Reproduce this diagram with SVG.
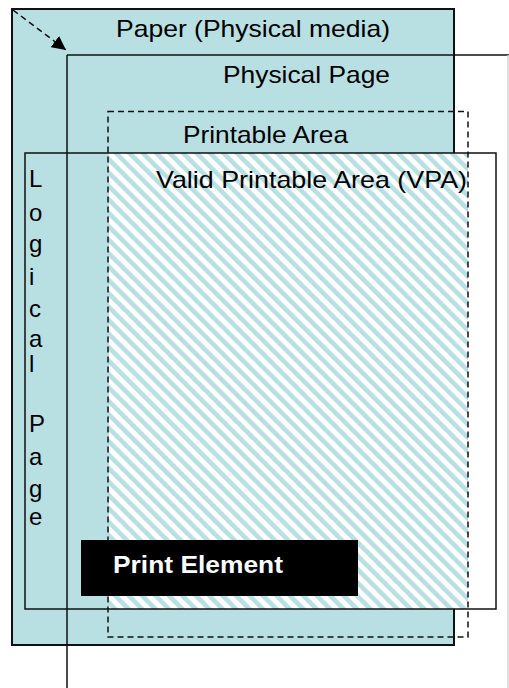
<svg xmlns="http://www.w3.org/2000/svg" width="509" height="688" viewBox="0 0 509 688">
  <style>
    .lbl { font-family: "Liberation Sans", Arial, sans-serif; font-size: 24px; fill: #000; }
    .pe { font-family: "Liberation Sans", Arial, sans-serif; font-size: 24px; font-weight: bold; fill: #fff; }
    .edge { fill: none; stroke: #111; stroke-width: 1.5; }
    .dash { fill: none; stroke: #111; stroke-width: 1.5; stroke-dasharray: 6 4; }
  </style>
  <defs>
    <pattern id="hatch" width="9.5" height="9.5" patternUnits="userSpaceOnUse" patternTransform="rotate(-45)">
      <rect width="9.5" height="9.5" fill="#ffffff"/>
      <rect width="4.6" height="9.5" fill="#b8dfe2"/>
    </pattern>
    <marker id="arrow" viewBox="0 0 10 10" refX="10" refY="5" markerWidth="14" markerHeight="14" markerUnits="userSpaceOnUse" orient="auto">
      <path d="M0,0 L10,5 L0,10 z" fill="#000"/>
    </marker>
  </defs>
  <rect width="509" height="688" fill="#ffffff"/>

  <g id="paper">
    <rect x="12" y="9" width="442" height="636" fill="#b8dfe2" stroke="#111" stroke-width="2"/>
    <text class="lbl" x="116" y="37" textLength="274" lengthAdjust="spacingAndGlyphs">Paper (Physical media)</text>
  </g>

  <g id="physical-page">
    <line x1="67" y1="55" x2="509" y2="55" class="edge"/>
    <line x1="67" y1="55" x2="67" y2="688" class="edge"/>
    <line x1="508" y1="55" x2="508" y2="688" stroke="#d4d4d4" stroke-width="1.5"/>
    <text class="lbl" x="223" y="83" textLength="167" lengthAdjust="spacingAndGlyphs">Physical Page</text>
  </g>

  <g id="vpa">
    <rect x="109" y="153" width="359" height="456" fill="url(#hatch)"/>
    <text class="lbl" x="156" y="188" textLength="311" lengthAdjust="spacingAndGlyphs">Valid Printable Area (VPA)</text>
  </g>

  <g id="printable-area">
    <rect x="108" y="111.5" width="360" height="525.5" class="dash"/>
    <text class="lbl" x="183" y="143" textLength="165" lengthAdjust="spacingAndGlyphs">Printable Area</text>
  </g>

  <g id="logical-page">
    <rect x="25" y="153" width="471" height="456" class="edge"/>
    <text class="lbl" x="29" y="187">L</text>
    <text class="lbl" x="29" y="221">o</text>
    <text class="lbl" x="29" y="252">g</text>
    <text class="lbl" x="29" y="285">i</text>
    <text class="lbl" x="29" y="317">c</text>
    <text class="lbl" x="29" y="347">a</text>
    <text class="lbl" x="29" y="372">l</text>
    <text class="lbl" x="29" y="432">P</text>
    <text class="lbl" x="29" y="465">a</text>
    <text class="lbl" x="29" y="497">g</text>
    <text class="lbl" x="29" y="525">e</text>
  </g>

  <g id="print-element">
    <rect x="81" y="540" width="277" height="56" fill="#000"/>
    <text class="pe" x="113" y="573" textLength="170" lengthAdjust="spacingAndGlyphs">Print Element</text>
  </g>

  <g id="connectors">
    <line x1="13" y1="10" x2="66" y2="50" class="dash" stroke-dasharray="5 4" marker-end="url(#arrow)"/>
  </g>
</svg>
